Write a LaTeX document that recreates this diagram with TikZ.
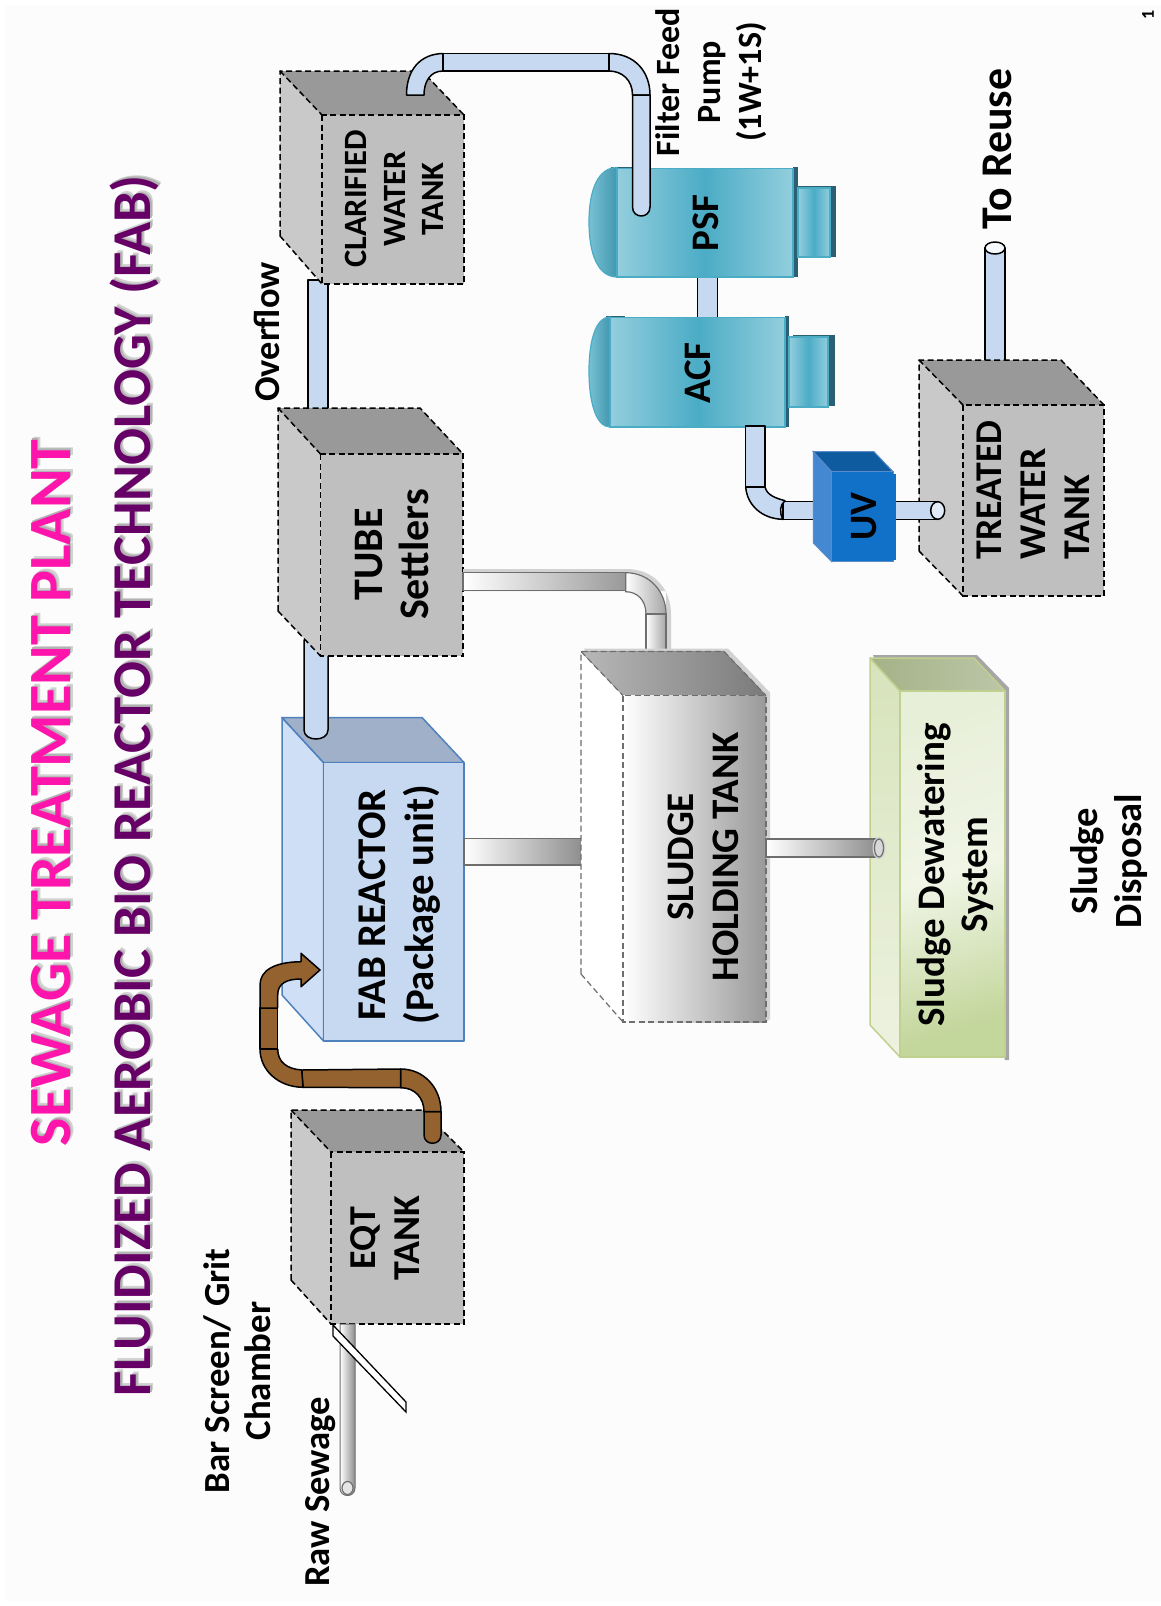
\documentclass[tikz,border=0pt]{standalone}
\usepackage{fontspec}
\setmainfont{Carlito}
\definecolor{bgc}{HTML}{FCFCFC}
\definecolor{pipeb}{HTML}{C6D9F1}
\definecolor{brownp}{HTML}{94622F}
\definecolor{tfront}{HTML}{BFBFBF}
\definecolor{tleft}{HTML}{C9C9C9}
\definecolor{ttop}{HTML}{999999}
\definecolor{fabl}{HTML}{CFE0F6}
\definecolor{fabt}{HTML}{9FB0C8}
\definecolor{fabe}{HTML}{4F81BD}
\definecolor{teal}{HTML}{4BACC6}
\definecolor{teall}{HTML}{93CEDD}
\definecolor{teald}{HTML}{2A6073}
\definecolor{greyedge}{HTML}{6E6E6E}
\definecolor{glow}{HTML}{D2D2D2}
\definecolor{greene}{HTML}{BFD08F}
\definecolor{pinkt}{HTML}{FF14AC}
\definecolor{purplet}{HTML}{660066}
\definecolor{uvfront}{HTML}{1170C8}
\definecolor{uvleft}{HTML}{4388D0}
\definecolor{uvtop}{HTML}{0F5BA0}
\definecolor{uvedge}{HTML}{5B8BC8}
\definecolor{gfa}{HTML}{F0F5E6}
\definecolor{gfb}{HTML}{E8EFD9}
\definecolor{gfc}{HTML}{C3D69B}
\definecolor{gla}{HTML}{D7E3BB}
\definecolor{glb}{HTML}{EDF2E0}
\definecolor{gta}{HTML}{A5B287}
\definecolor{gtb}{HTML}{BCC6A8}
\newcommand{\shadowtext}[1]{\makebox[0pt][l]{\hspace{3pt}\raisebox{-3pt}{\color{glow}#1}}\makebox[0pt][l]{\hspace{1.5pt}\raisebox{-1.5pt}{\color{glow!85!black}#1}}#1}
\newcommand{\lf}[2]{\fontsize{#1}{#2}\selectfont\bfseries}
\tikzset{
  lbl/.style={rotate=90,align=center,inner sep=0pt,text=black},
  tankline/.style={draw=black,line width=1.5pt,dash pattern=on 6pt off 3.5pt},
  bluepipe/.style={draw=black,line width=1.5pt,fill=pipeb,line join=round},
  brownpipe/.style={draw=black,line width=1.5pt,fill=brownp,line join=round},
  greypipe/.style={draw=greyedge,line width=1.2pt},
  fabface/.style={draw=fabe,line width=1.5pt,line join=round},
  greenface/.style={draw=greene,line width=1.5pt,line join=round},
  holdline/.style={draw=greyedge,line width=1.2pt,dash pattern=on 6pt off 3.5pt},
  tealbox/.style={draw=teal,line width=1.5pt,left color=teall,right color=teall,middle color=teal},
}
\newcommand{\greytank}[8]{
  \fill[tleft] (#1,#5) -- (#2,#6) -- (#2,#7) -- (#1,#8) -- cycle;
  \fill[ttop] (#1,#5) -- (#4,#5) -- (#3,#6) -- (#2,#6) -- cycle;
  \fill[tfront] (#2,#6) rectangle (#3,#7);
  \draw[tankline] (#1,#8) -- (#1,#5) -- (#4,#5) -- (#3,#6);
  \draw[tankline] (#1,#5) -- (#2,#6);
  \draw[tankline] (#1,#8) -- (#2,#7);
  \draw[tankline] (#2,#6) rectangle (#3,#7);
}
\begin{document}
\begin{tikzpicture}[x=1pt,y=-1pt]
\useasboundingbox (0,0) rectangle (1161,1606);
\fill[bgc] (0,0) rectangle (1161,1606);
\fill[white] (0,0) rectangle (1161,5) (0,1601) rectangle (1161,1606) (0,0) rectangle (5,1606);

% titles
\node[lbl,text=pinkt,font=\lf{60}{70}] (title1) at (52.5,793) {\shadowtext{SEWAGE TREATMENT PLANT}};
\node[lbl,text=purplet,font=\lf{54.7}{64}] (title2) at (136,786) {\shadowtext{FLUIDIZED AEROBIC BIO REACTOR TECHNOLOGY (FAB)}};

% overflow pipe behind tanks
\draw[bluepipe] (308,280) rectangle (328,412);

% FAB reactor
\draw[fabface,fill=fabl] (282,717.5) -- (323.5,762.5) -- (323.5,1041) -- (282,995) -- cycle;
\draw[fabface,fill=fabt] (282,717.5) -- (422,717.5) -- (464,762.5) -- (323.5,762.5) -- cycle;
\draw[fabface,fill=pipeb] (323.5,762.5) rectangle (464,1041);

% tube to FAB pipe
\draw[bluepipe] (304,640) -- (304,730) .. controls (304,742) and (328,742) .. (328,730) -- (328,640) -- cycle;

% tanks
\greytank{280}{322}{464}{422}{71}{115}{284}{236}
\greytank{278}{320.5}{463}{420}{408}{454}{656}{611}
\greytank{291}{331}{464}{422}{1110}{1152}{1324}{1280}

% grey pipes behind holding tank
\fill[glow] (463,569) -- (626,569) .. controls (655,569) and (671,590) .. (671,614) -- (671,650) -- (666,650) -- (666,591) -- (463,591) -- cycle;
\draw[greypipe,left color=white,right color=black!40] (463,572.7) rectangle (625.7,590.7);
\draw[greypipe,left color=white,right color=black!35] (625.7,572.7) .. controls (650,572.7) and (666,592) .. (666,614) -- (646,614) .. controls (646,600) and (637,591.7) .. (625.7,591.7) -- cycle;
\draw[greypipe,left color=white,right color=black!35] (646,614) rectangle (666,654);
\draw[greypipe,left color=white,right color=black!45] (464,838.5) rectangle (584,865);

% holding tank
\fill[glow] (584,648.5) -- (728,648.5) -- (770,692.5) -- (770,1019) -- (766,1022) -- cycle;
\fill[white] (581,651.5) -- (623,695.5) -- (623,1022) -- (581,974) -- cycle;
\fill[left color=black!28,right color=black!52] (581,651.5) -- (724,651.5) -- (766,695.5) -- (623,695.5) -- cycle;
\fill[left color=white,right color=black!40] (623,695.5) rectangle (766,1022);
\draw[holdline] (581,974) -- (581,651.5) -- (724,651.5) -- (766,695.5);
\draw[holdline] (581,651.5) -- (623,695.5);
\draw[holdline] (581,974) -- (623,1022);
\draw[holdline] (623,695.5) rectangle (766,1022);

% dewatering system
\fill[black!35] (873,655) -- (977,655) -- (1009,688) -- (1009,1060) -- (1005,1060) -- cycle;
\draw[greenface,top color=gla,bottom color=glb] (870,658) -- (900,691) -- (900,1057) -- (870,1025) -- cycle;
\draw[greenface,left color=gta,right color=gtb] (870,658) -- (974,658) -- (1005,691) -- (900,691) -- cycle;
\draw[greenface,shading=axis,top color=gfb,bottom color=gfc,middle color=gfa,shading angle=18] (900,691) rectangle (1005,1057);

% dewatering pipe
\draw[greypipe,left color=white,right color=black!45] (766,839) rectangle (879,857);
\draw[glow,line width=2pt,fill=white!85!black] (879,848) ellipse [x radius=5.5,y radius=10];
\draw[greypipe,fill=white!85!black] (879,848) ellipse [x radius=4.5,y radius=9];

% treated water tank and reuse pipe
\draw[bluepipe] (985,365) -- (985,248) -- (1005,248) -- (1005,365) -- cycle;
\draw[bluepipe,fill=white!85!pipeb] (995,248) ellipse [x radius=10,y radius=6];
\greytank{919}{963}{1104}{1061}{360}{405}{596}{551}

% pipe between filters
\draw[bluepipe] (697.7,270) rectangle (717.7,322);

% PSF
\fill[teald] (611,166.5) rectangle (640,169);
\fill[teald] (793,167) rectangle (798,277);
\draw[teal,line width=1.2pt,left color=teal!75!white,right color=teal!88!black] (617,167.5) .. controls (598,167.5) and (589,190) .. (589,222) .. controls (589,254) and (598,277) .. (617,277) -- cycle;
\draw[tealbox] (617,168.5) rectangle (793,277);
\fill[teald] (798,186) rectangle (836,257);
\draw[tealbox] (798,188) rectangle (830,257);

% ACF
\fill[teald] (606,315.5) rectangle (625,318);
\fill[teald] (785,316) rectangle (789,427);
\draw[teal,line width=1.2pt,left color=teal!75!white,right color=teal!88!black] (610,317) .. controls (596,317) and (589,340) .. (589,371) .. controls (589,402) and (596,427) .. (610,427) -- cycle;
\draw[tealbox] (610,317.5) rectangle (785,427);
\fill[teald] (793,335) rectangle (835,406);
\draw[tealbox] (789,337) rectangle (828,407);

% blue pipes
\draw[bluepipe] (406.5,95) .. controls (406.5,70) and (420,54) .. (443,53.5) -- (443,71) .. controls (430,71) and (424,82) .. (424,95) -- cycle;
\draw[bluepipe] (443,53.5) rectangle (609,71);
\draw[bluepipe] (609,53.5) .. controls (635,53.5) and (650,72) .. (650,95) -- (632.5,95) .. controls (632.5,80) and (622,71) .. (609,71) -- cycle;
\draw[bluepipe] (632.5,95) -- (632.5,207) .. controls (632.5,219) and (650,219) .. (650,207) -- (650,95) -- cycle;

% ACF to UV pipe
\draw[bluepipe] (745.7,426) rectangle (765,486.7);
\draw[bluepipe] (783,501.5) rectangle (900,519.3);
\draw[bluepipe] (745.7,487) .. controls (747,505) and (762,519) .. (783,519.3) .. controls (779,512) and (780,505) .. (785,500.7) .. controls (775,498) and (767,495) .. (765,487) -- cycle;
\draw[bluepipe] (895,501.7) rectangle (938,519.3);
\draw[bluepipe,fill=white!50!pipeb] (937.7,510.5) ellipse [x radius=7,y radius=8.8];

% UV
\draw[draw=uvedge,line width=1pt,fill=uvleft] (813.3,451.7) -- (831.7,471.7) -- (831.7,561.7) -- (813.3,543) -- cycle;
\draw[draw=uvedge,line width=1pt,fill=uvtop] (813.3,451.7) -- (874,451.7) -- (893,471.7) -- (831.7,471.7) -- cycle;
\draw[draw=uvedge,line width=1pt,fill=uvfront] (831.7,471.7) rectangle (893,561.7);
\fill[uvfront] (831.7,474) rectangle (895.7,560);

% brown pipe
\draw[brownpipe] (424,1111.7) -- (424,1135) .. controls (424,1146) and (441,1146) .. (441,1135) -- (441,1111.7) -- cycle;
\draw[brownpipe] (441,1111.7) .. controls (441,1088) and (424,1069) .. (400.7,1069) -- (400.7,1087.7) .. controls (415,1087.7) and (424,1098) .. (424,1111.7) -- cycle;
\draw[brownpipe] (301.7,1070) -- (400.7,1069) -- (400.7,1087.7) -- (303,1087.3) -- cycle;
\draw[brownpipe] (260,1049) .. controls (260,1070) and (278,1087) .. (303,1087.3) -- (301.7,1070) .. controls (287,1069) and (277.7,1062) .. (277.7,1049) -- cycle;
\draw[brownpipe] (260,1008) rectangle (277.7,1049);
\draw[brownpipe] (260,1008) -- (260,985) .. controls (260,970) and (275,962) .. (301,961.7) -- (301,953.3) -- (320,970) -- (301,986.7) -- (301,979) .. controls (287,979) and (277.7,983) .. (277.7,995) -- (277.7,1008) -- cycle;

% bar screen and raw sewage pipe
\draw[greyedge,line width=1pt,left color=white,right color=black!45] (340,1324) -- (340,1488) .. controls (340,1498) and (355,1498) .. (355,1488) -- (355,1324) -- cycle;
\draw[greypipe,fill=white!90!black] (347.5,1488) ellipse [x radius=5.5,y radius=6.5];
\draw[black,line width=1.3pt,fill=white] (333,1325) -- (406,1402) -- (406,1412) -- (333,1336) -- cycle;

% labels
\node[lbl,font=\lf{34}{41}] (filter) at (711,82) {Filter Feed\\Pump\\(1W+1S)};
\node[lbl,font=\lf{43.8}{50}] (reuse) at (997,149) {To Reuse};
\node[lbl,font=\lf{36.4}{44}] (over) at (267,332) {Overflow};
\node[lbl,font=\lf{32.5}{38.5}] (clar) at (394.5,199) {CLARIFIED\\WATER\\TANK};
\node[lbl,font=\lf{42}{46}] (tube) at (392,554.5) {TUBE\\Settlers};
\node[lbl,font=\lf{39}{44}] (psf) at (706,223) {PSF};
\node[lbl,font=\lf{39}{44}] (acf) at (698,373) {ACF};
\node[lbl,font=\lf{38.7}{44}] (uv) at (864,516.5) {UV};
\node[lbl,font=\lf{37.8}{44},align=left] (treated) at (1033.6,490) {TREATED\\WATER\\TANK};
\node[lbl,font=\lf{40.8}{48}] (fab) at (400,905) {FAB REACTOR\\(Package unit)};
\node[lbl,font=\lf{39}{45}] (hold) at (703.7,857) {SLUDGE\\HOLDING TANK};
\node[lbl,font=\lf{39}{43}] (dew) at (955,875) {Sludge Dewatering\\System};
\node[lbl,font=\lf{38.5}{44}] (disp) at (1109,861) {Sludge\\Disposal};
\node[lbl,font=\lf{38}{44}] (eqt) at (385,1238) {EQT\\TANK};
\node[lbl,font=\lf{36.8}{41}] (bar) at (237,1371) {Bar Screen/ Grit\\Chamber};
\node[lbl,font=\lf{36.6}{44}] (raw) at (321,1492) {Raw Sewage};
\node[lbl,font=\lf{18}{20}] (pageno) at (1148,15) {1};
\end{tikzpicture}
\end{document}
